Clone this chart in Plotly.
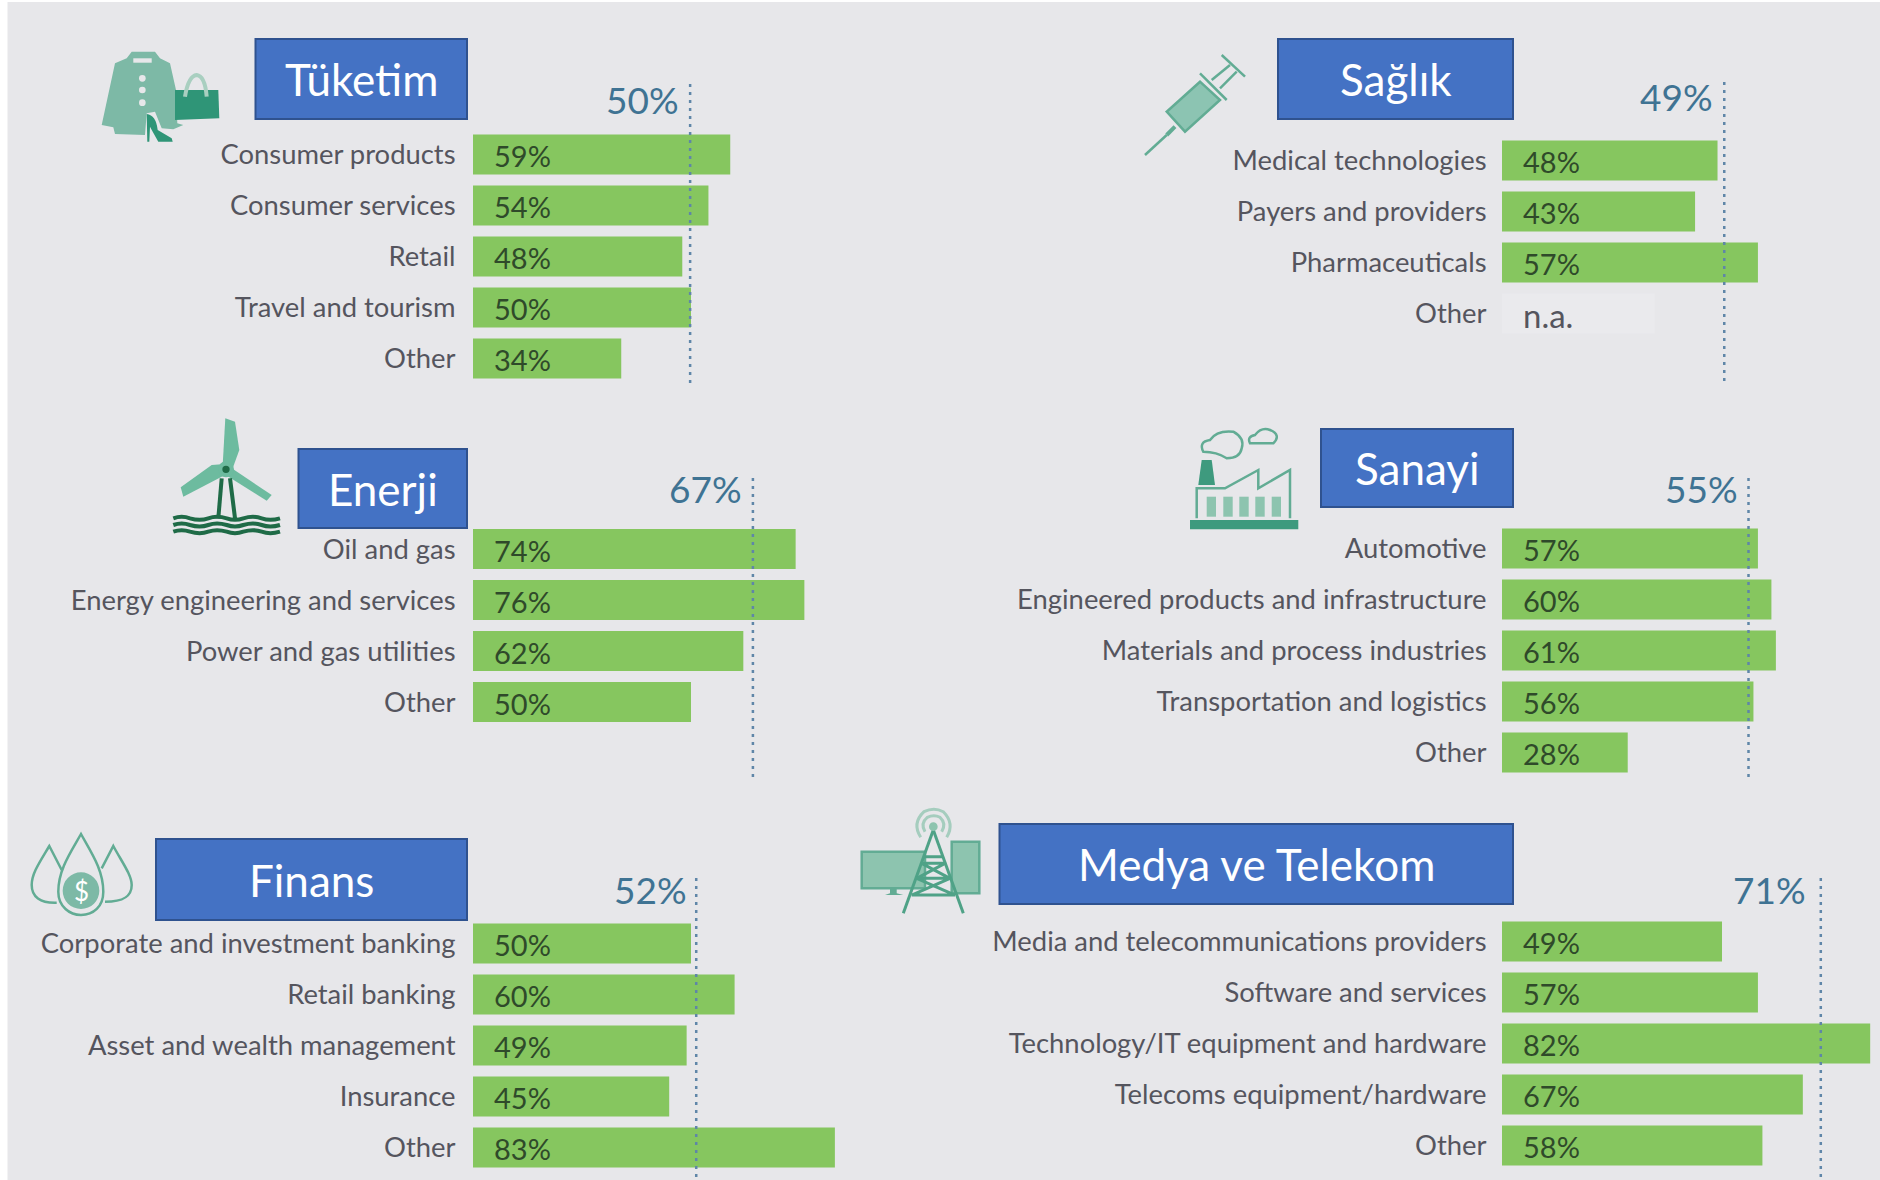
import re
import plotly.graph_objects as go

W, H = 1880, 1180
BG = "#E7E7EA"
BAR = "#86C65F"
NA_BAR = "#EAEAED"
BOX = "#4472C4"
BOX_EDGE = "#2F528F"
LABEL = "#55555E"
VALUE = "#2F4A2A"
AVG = "#3F7393"
DOT = "#5F86A8"
ICON = "#7DB9A6"
ICON_DARK = "#2F9577"
ICON_LINE = "#62AC94"
FONT = "Lato"

# values
tuketim_cats = ["Consumer products", "Consumer services", "Retail", "Travel and tourism", "Other"]
tuketim_vals = [59, 54, 48, 50, 34]
saglik_cats = ["Medical technologies", "Payers and providers", "Pharmaceuticals", "Other"]
saglik_vals = [48, 43, 57, None]
enerji_cats = ["Oil and gas", "Energy engineering and services", "Power and gas utilities", "Other"]
enerji_vals = [74, 76, 62, 50]
sanayi_cats = ["Automotive", "Engineered products and infrastructure", "Materials and process industries",
               "Transportation and logistics", "Other"]
sanayi_vals = [57, 60, 61, 56, 28]
finans_cats = ["Corporate and investment banking", "Retail banking", "Asset and wealth management",
               "Insurance", "Other"]
finans_vals = [50, 60, 49, 45, 83]
medya_cats = ["Media and telecommunications providers", "Software and services",
              "Technology/IT equipment and hardware", "Telecoms equipment/hardware", "Other"]
medya_vals = [49, 57, 82, 67, 58]

titles = ["Tüketim", "Sağlık", "Enerji", "Sanayi", "Finans", "Medya ve Telekom"]
avg_labels = ["50%", "49%", "67%", "55%", "52%", "71%"]
# the dotted line in the picture: Enerji's sits left of its 67% label value
avg_lines = [49.8, 49.5, 64.2, 54.9, 51.2, 71]
na_placeholder = 34

# panel layout in page pixels
panels = [
    dict(cats=tuketim_cats, vals=tuketim_vals, left=473, scale=4.36, c0=154.5, top=80, bottom=383,
         box=(254.5, 38, 468, 120), avg_y=99, avg_gap=11, tick=11),
    dict(cats=saglik_cats, vals=saglik_vals, left=1502, scale=4.49, c0=160.5, top=81, bottom=381,
         box=(1277, 38, 1514, 120), avg_y=96, avg_gap=11, tick=9),
    dict(cats=enerji_cats, vals=enerji_vals, left=473, scale=4.36, c0=549, top=475, bottom=777,
         box=(297.5, 448, 468, 529), avg_y=488, avg_gap=11, tick=11),
    dict(cats=sanayi_cats, vals=sanayi_vals, left=1502, scale=4.49, c0=548.5, top=475, bottom=777,
         box=(1320, 428, 1514, 508), avg_y=488, avg_gap=11, tick=9),
    dict(cats=finans_cats, vals=finans_vals, left=473, scale=4.36, c0=943.5, top=875, bottom=1177,
         box=(155, 838, 468, 921), avg_y=889, avg_gap=9, tick=11),
    dict(cats=medya_cats, vals=medya_vals, left=1502, scale=4.49, c0=941.5, top=873, bottom=1177,
         box=(998.5, 823, 1514, 905), avg_y=889, avg_gap=15, tick=9),
]
PITCH = 51
BAR_H = 40
X_MAX = 84


def icon_path(ox, oy, d, k=3.0):
    """Turn a path drawn in 3x crop coordinates into page pixels."""
    nums = iter(range(10000))

    def conv(m):
        v = float(m.group(0))
        return f"{(ox if next(nums) % 2 == 0 else oy) + v / k:.1f}"

    return re.sub(r"-?\d+\.?\d*", conv, d)


fig = go.Figure()
shapes = []
annotations = []


def icon(ox, oy, d, fill=None, line=None, width=0):
    shapes.append(dict(type="path", xref="x", yref="y", path=icon_path(ox, oy, d), layer="below",
                       fillcolor=fill or "rgba(0,0,0,0)",
                       line=dict(color=line or "rgba(0,0,0,0)", width=width)))


def dot(ox, oy, cx, cy, r, fill):
    shapes.append(dict(type="circle", xref="x", yref="y", layer="below", fillcolor=fill, line=dict(width=0),
                       x0=ox + (cx - r) / 3, x1=ox + (cx + r) / 3, y0=oy + (cy - r) / 3, y1=oy + (cy + r) / 3))


# page background, with the white sliver the screenshot has on the left and top
shapes.append(dict(type="rect", xref="x", yref="y", x0=7.5, y0=2, x1=W, y1=H, layer="below",
                   fillcolor=BG, line=dict(width=0)))

# invisible page-pixel axes; they come first so that everything on them stays under the bars
fig.add_trace(go.Scatter(x=[0], y=[0], mode="none", xaxis="x", yaxis="y", hoverinfo="skip", showlegend=False))

layout_axes = dict(
    xaxis=dict(domain=[0, 1], range=[0, W], visible=False, fixedrange=True),
    yaxis=dict(domain=[0, 1], range=[H, 0], visible=False, fixedrange=True),
)

for i, p in enumerate(panels):
    n = i + 2
    xname, yname = f"x{n}", f"y{n}"
    y_top = (p["top"] - p["c0"]) / PITCH
    y_bottom = (p["bottom"] - p["c0"]) / PITCH
    vals = p["vals"]
    plot_vals = [na_placeholder if v is None else v for v in vals]
    colors = [NA_BAR if v is None else BAR for v in vals]
    fig.add_trace(go.Bar(
        y=p["cats"], x=plot_vals, orientation="h", xaxis=xname, yaxis=yname,
        marker=dict(color=colors, line=dict(width=0)), showlegend=False,
        hovertemplate="%{y}<extra></extra>",
    ))
    layout_axes[f"xaxis{n}"] = dict(
        domain=[p["left"] / W, min(1, (p["left"] + p["scale"] * X_MAX) / W)],
        range=[0, X_MAX], visible=False, anchor=yname, fixedrange=True,
    )
    layout_axes[f"yaxis{n}"] = dict(
        domain=[1 - p["bottom"] / H, 1 - p["top"] / H],
        type="category", categoryorder="array", categoryarray=p["cats"],
        range=[y_bottom, y_top], anchor=xname, fixedrange=True,
        showgrid=False, zeroline=False, showline=False,
        ticks="outside", ticklen=p["tick"], tickcolor="rgba(0,0,0,0)",
        tickfont=dict(family=FONT, size=27.4, color=LABEL),
    )
    for cat, v in zip(p["cats"], vals):
        annotations.append(dict(
            xref=xname, yref=yname, x=0, y=cat, xanchor="left", xshift=19, yshift=-1,
            text="n.a." if v is None else f"{v}%", showarrow=False,
            font=dict(family=FONT, size=33 if v is None else 29, color=LABEL if v is None else VALUE),
        ))
    # dotted average line
    shapes.append(dict(type="line", xref=xname, yref=f"{yname} domain", x0=avg_lines[i], x1=avg_lines[i],
                       y0=0, y1=1, layer="above", line=dict(color=DOT, width=2.5, dash="3px,5px")))
    annotations.append(dict(
        xref=xname, yref="y", x=avg_lines[i], y=p["avg_y"], xanchor="right", xshift=-p["avg_gap"] + 2,
        text=avg_labels[i], showarrow=False, font=dict(family=FONT, size=37, color=AVG),
    ))
    # title box
    x0, y0, x1, y1 = p["box"]
    shapes.append(dict(type="rect", xref="x", yref="y", x0=x0 + 1, y0=y0 + 1, x1=x1 - 1, y1=y1 - 1, layer="below",
                       fillcolor=BOX, line=dict(color=BOX_EDGE, width=2)))
    annotations.append(dict(
        xref="x", yref="y", x=(x0 + x1) / 2, y=(y0 + y1) / 2, text=titles[i], showarrow=False,
        font=dict(family=FONT, size=44, color="white"),
    ))

# coat, shoe and bag
ox, oy = 90, 40
icon(ox, oy, "M125,35 L195,35 L210,55 L240,70 L258,150 L262,250 L280,255 L250,268 L215,265 "
             "L195,215 L170,220 L165,285 L75,282 L70,262 L35,255 L75,70 L110,55 Z", fill=ICON)
icon(ox, oy, "M130,55 L185,55 L185,68 L130,68 Z", fill=BG)
for cy in (115, 150, 188):
    dot(ox, oy, 157, cy, 10, BG)
icon(ox, oy, "M170,222 Q198,225 203,270 L245,295 L248,305 L205,305 Q185,270 180,260 L178,305 L172,305 Z",
     fill=ICON_DARK)
icon(ox, oy, "M255,150 L385,150 L388,235 L255,240 Z", fill=ICON_DARK)
icon(ox, oy, "M285,170 Q295,108 320,105 Q345,108 350,170", line="#A9CFC0", width=4)

# syringe
ox, oy = 1130, 30
icon(ox, oy, "M110,245 L210,155 L270,210 L165,305 Z", fill="#8CC4B2", line=ICON_LINE, width=2.5)
icon(ox, oy, "M45,375 L110,315", line=ICON_LINE, width=2.5)
icon(ox, oy, "M110,315 L135,290", line=ICON_LINE, width=4)
icon(ox, oy, "M210,130 L290,210", line=ICON_LINE, width=2.5)
icon(ox, oy, "M245,150 L300,105", line=ICON_LINE, width=2.5)
icon(ox, oy, "M270,175 L320,125", line=ICON_LINE, width=2.5)
icon(ox, oy, "M275,75 L345,140", line=ICON_LINE, width=2.5)

# wind turbine on water
ox, oy = 150, 400
WIND = "#6DBB9F"
DARK = "#1F6B47"
icon(ox, oy, "M226,55 L255,65 L268,150 L248,205 L218,195 Z", fill=WIND)
icon(ox, oy, "M92,262 L185,195 L225,192 L225,225 L100,290 Z", fill=WIND)
icon(ox, oy, "M232,228 L250,208 L365,285 L350,302 Z", fill=WIND)
dot(ox, oy, 228, 208, 24, WIND)
dot(ox, oy, 228, 208, 11, DARK)
icon(ox, oy, "M215,235 L205,355", line=DARK, width=4)
icon(ox, oy, "M240,235 L255,355", line=DARK, width=4)
for wy in (355, 375, 395):
    icon(ox, oy, f"M70,{wy} Q95,{wy - 9} 120,{wy} Q150,{wy + 9} 175,{wy} Q200,{wy - 9} 230,{wy} "
                 f"Q255,{wy + 9} 280,{wy} Q310,{wy - 9} 335,{wy} Q360,{wy + 9} 390,{wy}",
         line=DARK, width=4)

# factory
ox, oy = 1170, 410
icon(ox, oy, "M60,330 L385,330 L385,358 L60,358 Z", fill="#3E9A7E")
icon(ox, oy, "M95,150 L125,150 L135,225 L85,225 Z", fill="#3E9A7E")
icon(ox, oy, "M80,325 L80,235 L165,235 L265,180 L265,235 L360,180 L360,325", line=ICON_LINE, width=2.5)
for wx in (110, 160, 208, 256, 305):
    icon(ox, oy, f"M{wx},260 L{wx + 28},260 L{wx + 28},320 L{wx},320 Z", fill="#8DC4AF")
icon(ox, oy, "M100,125 Q85,95 120,90 Q140,60 190,65 Q225,85 215,115 Q210,145 170,145 Q140,125 100,125 Z",
     line=ICON_LINE, width=2.5)
icon(ox, oy, "M240,100 Q230,80 255,75 Q275,50 300,60 Q335,75 310,100 Z", line=ICON_LINE, width=2.5)

# money drops
ox, oy = 20, 820
icon(ox, oy, "M183,42 C150,100 115,150 115,215 C115,260 150,285 183,285 C220,285 250,260 250,215 "
             "C250,150 215,100 183,42 Z", line=ICON_LINE, width=2.5)
icon(ox, oy, "M125,150 L88,78 C60,125 35,160 35,195 C35,230 60,250 110,248", line=ICON_LINE, width=2.5)
icon(ox, oy, "M245,145 L280,78 C305,125 335,165 335,195 C335,230 310,245 255,245", line=ICON_LINE, width=2.5)
dot(ox, oy, 183, 212, 55, ICON)
annotations.append(dict(xref="x", yref="y", x=ox + 183 / 3, y=oy + 212 / 3, text="$", showarrow=False,
                        font=dict(family=FONT, size=26, color="white")))

# telecom tower and screens
ox, oy = 850, 800
icon(ox, oy, "M35,155 L225,155 L225,265 L35,265 Z", fill="#8DC4AF", line=ICON_LINE, width=2.5)
icon(ox, oy, "M120,265 L140,265 L140,280 L160,285 L105,285 L120,280 Z", fill=ICON_LINE)
icon(ox, oy, "M305,125 L388,125 L388,280 L305,280 Z", fill="#8DC4AF", line=ICON_LINE, width=2.5)
icon(ox, oy, "M250,90 L160,340", line="#4FA287", width=3)
icon(ox, oy, "M250,90 L340,340", line="#4FA287", width=3)
icon(ox, oy, "M222,170 L278,170 M215,190 L285,190 L200,235 L300,235 L185,285 L315,285 M215,190 L300,235 "
             "M200,235 L315,285", line="#4FA287", width=3)
dot(ox, oy, 250, 80, 13, "#8DC4AF")
icon(ox, oy, "M225,95 Q210,70 232,52 Q252,42 270,52 Q290,70 275,95", line="#A5CDBE", width=3)
icon(ox, oy, "M212,112 Q185,70 222,35 Q252,20 280,35 Q315,70 290,112", line="#A5CDBE", width=3)

fig.update_layout(
    width=W, height=H,
    margin=dict(l=0, r=0, t=0, b=0),
    paper_bgcolor="white", plot_bgcolor="rgba(0,0,0,0)",
    bargap=1 - BAR_H / PITCH,
    shapes=shapes, annotations=annotations,
    font=dict(family=FONT),
    **layout_axes,
)

fig.write_html("out.html", config=dict(displayModeBar=False),
               post_script="document.body.style.margin='0';document.body.style.overflow='hidden';")
